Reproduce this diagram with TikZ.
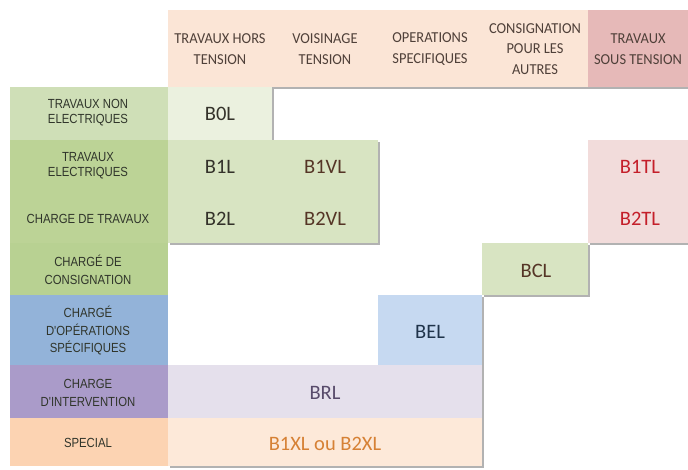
\documentclass[tikz,border=0pt]{standalone}
\usepackage{fontspec}
\usetikzlibrary{shadows}
\newfontfamily\hdrf{Carlito}
\newfontfamily\hdrnf[FakeStretch=0.95]{Carlito}
\newfontfamily\lblf[FakeStretch=0.86]{Liberation Sans}
\definecolor{hdrpeach}{HTML}{FBE5D6}
\definecolor{hdrpink}{HTML}{E6B9B8}
\definecolor{lblA}{HTML}{CFDFB7}
\definecolor{lblB}{HTML}{BCD396}
\definecolor{lblC}{HTML}{B8D192}
\definecolor{lblD}{HTML}{93B3D9}
\definecolor{lblE}{HTML}{AA9BC9}
\definecolor{lblF}{HTML}{FCD3B2}
\definecolor{cB0}{HTML}{EBF1DF}
\definecolor{cGreen}{HTML}{D8E4C2}
\definecolor{cPink}{HTML}{F2DCDB}
\definecolor{cBlue}{HTML}{C6D9F1}
\definecolor{cPurple}{HTML}{E5E0EC}
\definecolor{cPeach}{HTML}{FDE9D9}
\definecolor{hdrtxt}{HTML}{4F4039}
\definecolor{lbltxt}{HTML}{30352B}
\definecolor{tDark}{HTML}{34322A}
\definecolor{tBrown}{HTML}{553526}
\definecolor{tRed}{HTML}{C41F2A}
\definecolor{tBlue}{HTML}{1F334A}
\definecolor{tPurple}{HTML}{584B6B}
\definecolor{tOrange}{HTML}{D68135}
\begin{document}
\begin{tikzpicture}[x=1pt,y=-1pt,
  box/.style={inner sep=0pt, outer sep=0pt, anchor=north west, draw=none},
  shad/.style={drop shadow={shadow xshift=2pt, shadow yshift=-2pt, opacity=0.3, fill=black}},
  hdr/.style={font=\hdrnf\fontsize{15.2}{20.5}\selectfont, align=center, text=hdrtxt, inner sep=0pt},
  lbl/.style={font=\lblf\fontsize{13.2}{15}\selectfont, align=center, text=lbltxt, inner sep=0pt},
  lblacc/.style={lbl, font=\lblf\fontsize{13.2}{17.5}\selectfont},
  celltxt/.style={font=\hdrf\fontsize{20.5}{24}\selectfont, inner sep=0pt}]
\useasboundingbox (0,0) rectangle (688,470);
\fill[white] (0,0) rectangle (688,470);

% header
\node[box, shad, fill=hdrpeach, minimum width=520pt, minimum height=77pt] (hdr) at (168,10) {};
\node[box, fill=hdrpink, minimum width=100pt, minimum height=77pt] (hdrpk) at (588,10) {};
\node[hdr] (h1) at (220,49) {TRAVAUX HORS\\TENSION};
\node[hdr] (h2) at (325,49) {VOISINAGE\\TENSION};
\node[hdr] (h3) at (430,49) {OPERATIONS\\SPECIFIQUES};
\node[hdr] (h4) at (535,49) {CONSIGNATION\\POUR LES\\AUTRES};
\node[hdr] (h5) at (638,49) {TRAVAUX\\SOUS TENSION};

% label column
\node[box, fill=lblA, minimum width=158pt, minimum height=53pt] (rA) at (10,87) {};
\node[box, fill=lblB, minimum width=158pt, minimum height=103pt] (rB) at (10,140) {};
\node[box, fill=lblC, minimum width=158pt, minimum height=52pt] (rC) at (10,243) {};
\node[box, fill=lblD, minimum width=158pt, minimum height=70pt] (rD) at (10,295) {};
\node[box, fill=lblE, minimum width=158pt, minimum height=53pt] (rE) at (10,365) {};
\node[box, fill=lblF, minimum width=158pt, minimum height=48pt] (rF) at (10,418) {};
\node[lbl] (l1) at (88,113) {TRAVAUX NON\\ELECTRIQUES};
\node[lbl] (l2) at (88,166) {TRAVAUX\\ELECTRIQUES};
\node[lbl] (l3) at (88,219) {CHARGE DE TRAVAUX};
\node[lblacc] (l4) at (88,270) {CHARGÉ DE\\CONSIGNATION};
\node[lblacc] (l5) at (88,331) {CHARGÉ\\D\char39OPÉRATIONS\\SPÉCIFIQUES};
\node[lblacc] (l6) at (88,393) {CHARGE\\D\char39INTERVENTION};
\node[lbl] (l7) at (88,443) {SPECIAL};

% cells
\node[box, shad, fill=cB0, minimum width=104pt, minimum height=53pt] (cb0) at (168,87) {};
\node[box, shad, fill=cGreen, minimum width=210pt, minimum height=103pt] (cgr) at (168,140) {};
\node[box, shad, fill=cPink, minimum width=100pt, minimum height=103pt] (cpk) at (588,140) {};
\node[box, shad, fill=cGreen, minimum width=106pt, minimum height=52pt] (cbc) at (482,243) {};
\node[box, shad, fill=cBlue, minimum width=104pt, minimum height=70pt] (cbe) at (378,295) {};
\node[box, shad, fill=cPurple, minimum width=314pt, minimum height=53pt] (cbr) at (168,365) {};
\node[box, shad, fill=cPeach, minimum width=314pt, minimum height=48pt] (cbx) at (168,418) {};

\node[celltxt, text=tDark] (t0) at (220,114) {B0L};
\node[celltxt, text=tDark] (t1) at (220,167) {B1L};
\node[celltxt, text=tBrown] (t2) at (325,167) {B1VL};
\node[celltxt, text=tDark] (t3) at (220,219) {B2L};
\node[celltxt, text=tBrown] (t4) at (325,219) {B2VL};
\node[celltxt, text=tRed] (t5) at (640,167) {B1TL};
\node[celltxt, text=tRed] (t6) at (640,219) {B2TL};
\node[celltxt, text=tBrown] (t7) at (536,271) {BCL};
\node[celltxt, text=tBlue] (t8) at (430,332) {BEL};
\node[celltxt, text=tPurple] (t9) at (325,393) {BRL};
\node[celltxt, text=tOrange] (t10) at (325,444) {B1XL ou B2XL};
\end{tikzpicture}
\end{document}
